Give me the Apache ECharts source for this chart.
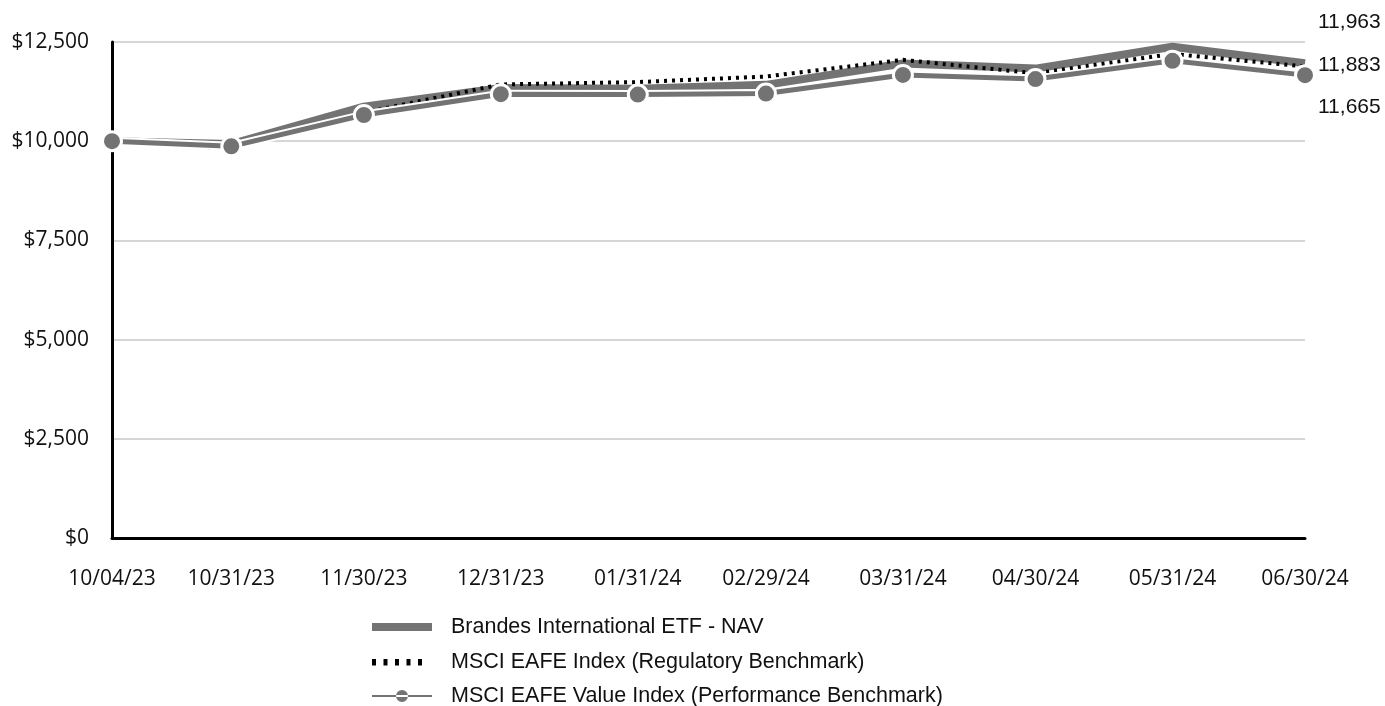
<!DOCTYPE html>
<html>
<head>
<meta charset="utf-8">
<script src="https://cdn.jsdelivr.net/npm/echarts@6/dist/echarts.min.js"></script>
<style>html,body{margin:0;padding:0;background:#fff}#c{width:1385px;height:706px}</style>
</head>
<body>
<div id="c"></div>
<script>
var dates = ['2023-10-04','2023-10-31','2023-11-30','2023-12-31','2024-01-31','2024-02-29','2024-03-31','2024-04-30','2024-05-31','2024-06-30'];
var navValues = [10000, 9930, 10870, 11340, 11320, 11420, 11960, 11830, 12380, 11963];
var eafeValues = [10000, 9810, 10720, 11430, 11490, 11630, 12050, 11710, 12200, 11883];
var valueIdxValues = [10000, 9870, 10660, 11185, 11175, 11200, 11670, 11565, 12025, 11665];
var seriesNames = ['Brandes International ETF - NAV', 'MSCI EAFE Index (Regulatory Benchmark)', 'MSCI EAFE Value Index (Performance Benchmark)'];
var yTicks = [0, 2500, 5000, 7500, 10000, 12500];

var DAY = 86400000;
function ts(d){ var p = d.split('-'); return Date.UTC(+p[0], +p[1]-1, +p[2]); }
var t0 = ts(dates[0]);
var days = dates.map(function(d){ return Math.round((ts(d) - t0) / DAY); });
function pairs(vals){ return vals.map(function(v,i){ return [days[i], v]; }); }
function pad(n){ return (n<10?'0':'')+n; }
function fmtDate(dayOff){ var d = new Date(t0 + dayOff*DAY); return pad(d.getUTCMonth()+1)+'/'+pad(d.getUTCDate())+'/'+String(d.getUTCFullYear()).slice(2); }
function fmtNum(v){ return String(Math.round(v)).replace(/\B(?=(\d{3})+(?!\d))/g, ','); }

var gray = '#737373';
var corners = 'M0,0L0.01,0L0,0.01ZM60,14L59.99,14L60,13.99Z';
var iconNav = 'path://' + corners + 'M0,3H60V11H0Z';
var iconDots = 'path://' + corners;
for (var i = 0; i < 5; i++) { var x0 = i * 11.5; iconDots += 'M' + x0 + ',4H' + (x0 + 4) + 'V10.5H' + x0 + 'Z'; }
var iconVal = 'path://' + corners + 'M0,6H60V8H0ZM24,7A6,6 0 1,0 36,7A6,6 0 1,0 24,7Z';

var legendItems = [
  { name: seriesNames[0], icon: iconNav, itemStyle: { color: gray, borderWidth: 0 } },
  { name: seriesNames[1], icon: iconDots, itemStyle: { color: '#000', borderWidth: 0 } },
  { name: seriesNames[2], icon: iconVal, itemStyle: { color: gray, borderWidth: 0 } }
];
var legendTops = [616, 651, 685];
function makeLegend(k){
  return {
    orient: 'horizontal', left: 372, top: legendTops[k], padding: 0, itemWidth: 60, itemHeight: 14,
    symbolKeepAspect: false, data: [legendItems[k]],
    textStyle: { fontFamily: 'Liberation Sans', fontSize: 21.5, lineHeight: 20, color: '#111', padding: [0,0,0,14] }
  };
}

var endLabelBase = { show: true, fontFamily: 'Liberation Sans', fontSize: 21, color: '#111', distance: 13,
  formatter: function(p){ return fmtNum(p.value[1]); } };

var chart = echarts.init(document.getElementById('c'), null, {renderer: 'canvas'});
chart.setOption({
  animation: false,
  grid: { left: 112, right: 80, top: 42, bottom: 168, containLabel: false },
  legend: [makeLegend(0), makeLegend(1), makeLegend(2)],
  xAxis: {
    type: 'value', min: days[0], max: days[days.length-1],
    axisLine: { show: true, lineStyle: { color: '#000', width: 3 } },
    axisTick: { show: false },
    splitLine: { show: false },
    axisLabel: { customValues: days, formatter: function(v){ return fmtDate(v); },
      fontFamily: 'Open Sans', fontSize: 21, color: '#111', margin: 31 }
  },
  yAxis: {
    type: 'value', min: yTicks[0], max: yTicks[yTicks.length-1], interval: 2500,
    axisLine: { show: true, lineStyle: { color: '#000', width: 3 } },
    axisTick: { show: false },
    splitLine: { show: true, lineStyle: { color: '#c8c8c8', width: 1.5 } },
    axisLabel: { formatter: function(v){ return '$' + fmtNum(v); }, fontFamily: 'Open Sans', fontSize: 21, color: '#111', margin: 23, padding: [6,0,0,0] }
  },
  series: [
    { name: seriesNames[0], type: 'line', data: pairs(navValues), symbol: 'none', z: 3,
      lineStyle: { color: gray, width: 8 }, itemStyle: { color: gray },
      endLabel: Object.assign({}, endLabelBase, { offset: [0, -41] }) },
    { name: seriesNames[1], type: 'line', data: pairs(eafeValues), symbol: 'none', z: 4,
      lineStyle: { color: '#000', width: 4, type: [3, 5] }, itemStyle: { color: '#000' },
      endLabel: Object.assign({}, endLabelBase, { offset: [0, -1] }) },
    { name: 'underlay', type: 'line', data: pairs(valueIdxValues), symbol: 'none', z: 5, silent: true,
      lineStyle: { color: '#fff', width: 9 } },
    { name: seriesNames[2], type: 'line', data: pairs(valueIdxValues), symbol: 'circle', symbolSize: 19, z: 6,
      showSymbol: true,
      lineStyle: { color: gray, width: 5 }, itemStyle: { color: gray, borderColor: '#fff', borderWidth: 3 },
      endLabel: Object.assign({}, endLabelBase, { offset: [0, 32] }) }
  ]
});
</script>
</body>
</html>
